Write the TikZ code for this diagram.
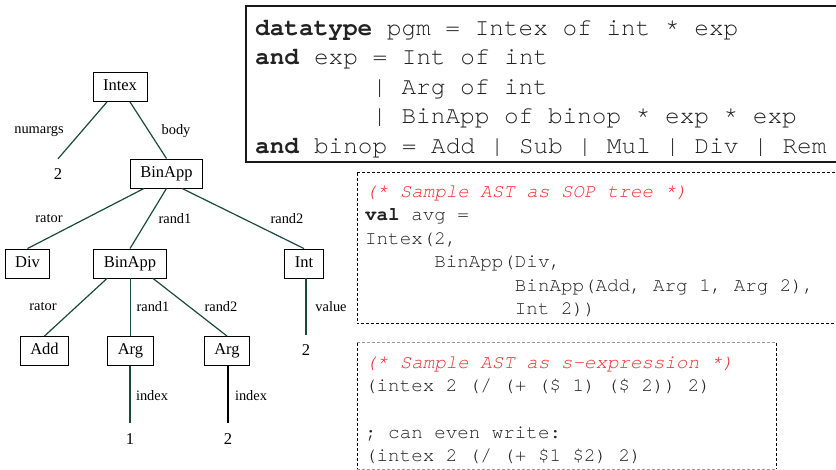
\documentclass[tikz,border=0pt]{standalone}
\usepackage{fontspec}
\setmainfont{Liberation Serif}
\newfontfamily\codefont{texgyrecursor}[Extension=.otf, UprightFont=*-regular, BoldFont=*-bold, ItalicFont=*-italic, BoldItalicFont=*-bolditalic]
\definecolor{edgec}{HTML}{1A4A3C}
\definecolor{cmtred}{HTML}{F03030}
\definecolor{dgray}{HTML}{9A9A9A}
\definecolor{codec}{HTML}{222222}
\begin{document}
\begin{tikzpicture}[x=1pt,y=-1pt,
  treebox/.style={draw=black, line width=0.9pt, font=\fontsize{16.5}{19}\selectfont,
    inner xsep=10pt, inner ysep=7pt, text height=11.5pt, text depth=3.5pt},
  leaf/.style={font=\fontsize{16.5}{19}\selectfont, inner sep=0pt, minimum height=34pt,
    text height=11.5pt, text depth=3.5pt},
  lab/.style={font=\fontsize{14.4}{17}\selectfont, inner sep=0pt},
  edge/.style={draw=edgec, line width=1.2pt},
  codetxt/.style={align=left, inner sep=0pt, anchor=north west, text=codec},
  bigcode/.style={codetxt, font=\codefont\fontsize{24.4}{29.5}\selectfont},
  smallcode/.style={codetxt, font=\codefont\fontsize{19.2}{23.5}\selectfont}
]
\useasboundingbox (0,0) rectangle (836,470);
\clip (0,0) rectangle (836,470);

% ---- tree ----
\node[treebox] (intex) at (120,87) {Intex};
\node[leaf] (two0) at (58,176) {2};
\node[treebox] (bin1) at (166.5,173.5) {BinApp};
\node[treebox] (div) at (27.5,263.5) {Div};
\node[treebox] (bin2) at (130,263.5) {BinApp};
\node[treebox] (int) at (304,263.5) {Int};
\node[leaf] (two1) at (306,352) {2};
\node[treebox] (add) at (44.5,351) {Add};
\node[treebox] (arg1) at (130.5,351) {Arg};
\node[treebox] (arg2) at (227,351) {Arg};
\node[leaf] (one) at (130,440) {1};
\node[leaf] (two2) at (228,440) {2};

\draw[edge] ([xshift=-13pt]intex.south) -- (two0.north);
\draw[edge] ([xshift=10pt]intex.south) -- (bin1.north);
\draw[edge] ([xshift=-22.5pt]bin1.south) -- (div.north);
\draw[edge] (bin1.south) -- (bin2.north);
\draw[edge] ([xshift=15.5pt]bin1.south) -- (int.north);
\draw[edge] ([xshift=-23pt]bin2.south) -- (add.north);
\draw[edge] (bin2.south -| arg1.north) -- (arg1.north);
\draw[edge] ([xshift=23pt]bin2.south) -- (arg2.north);
\draw[edge] (int.south -| two1.north) -- (two1.north);
\draw[edge] (arg1.south -| one.north) -- (one.north);
\draw[line width=1.2pt, draw=black] (arg2.south -| two2.north) -- (two2.north);

\node[lab] (l1) at (39,131) {numargs};
\node[lab] (l2) at (176,131) {body};
\node[lab] (l3) at (49,219) {rator};
\node[lab] (l4) at (175,219) {rand1};
\node[lab] (l5) at (287,219) {rand2};
\node[lab] (l6) at (43,307) {rator};
\node[lab] (l7) at (153,307) {rand1};
\node[lab] (l8) at (221,307) {rand2};
\node[lab] (l9) at (331,307) {value};
\node[lab] (l10) at (152,396) {index};
\node[lab] (l11) at (251,396) {index};

% ---- datatype box ----
\draw[line width=1.3pt, draw=black!90] (246,6) rectangle (850,162);
\node[bigcode] (dt) at (255,13) {\rule{0pt}{22pt}\textbf{datatype} pgm = Intex of int * exp\\
\textbf{and} exp = Int of int\\
\hphantom{00000000}| Arg of int\\
\hphantom{00000000}| BinApp of binop * exp * exp\\
\textbf{and} binop = Add | Sub | Mul | Div | Rem};

% ---- SOP box ----
\draw[line width=1pt, dash pattern=on 3pt off 2pt] (357,173) rectangle (850,324);
\node[smallcode] (sop) at (365,179) {\rule{0pt}{18pt}\textcolor{cmtred}{\itshape (* Sample AST as SOP tree *)}\\
\textbf{val} avg =\\
Intex(2,\\
\hphantom{000000}BinApp(Div,\\
\hphantom{0000000000000}BinApp(Add, Arg 1, Arg 2),\\
\hphantom{0000000000000}Int 2))};

% ---- s-expression box ----
\draw[line width=1pt, dash pattern=on 3pt off 2pt, draw=dgray] (357,343) -- (776,343);
\draw[line width=1pt, dash pattern=on 3pt off 2pt, draw=dgray] (357,469) -- (776,469);
\draw[line width=1pt, dash pattern=on 3pt off 2pt] (357,343) -- (357,469);
\draw[line width=1pt, dash pattern=on 3pt off 2pt] (776,343) -- (776,469);
\node[smallcode, font=\codefont\fontsize{19.2}{23.4}\selectfont] (sx) at (365,350) {\rule{0pt}{18pt}\textcolor{cmtred}{\itshape (* Sample AST as s-expression *)}\\
(intex 2 (/ (+ (\$ 1) (\$ 2)) 2)\\
\rule{0pt}{1pt}\\
; can even write:\\
(intex 2 (/ (+ \$1 \$2) 2)};
\end{tikzpicture}
\end{document}
